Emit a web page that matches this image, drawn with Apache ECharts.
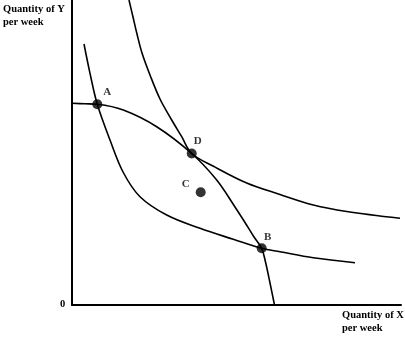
<!DOCTYPE html>
<html>
<head>
<meta charset="utf-8">
<script src="https://cdn.jsdelivr.net/npm/echarts@6/dist/echarts.min.js"></script>
<style>html,body{margin:0;padding:0;background:#fff;}#c{width:405px;height:338px;}</style>
</head>
<body>
<div id="c"></div>
<script>
// Higher indifference curve (through D)
const upperIC = [[57,305],[61,288],[65,271],[70,252],[78,230],[88,206],[99.7,185],[109.7,168.3],[119.7,151.5],[141,139],[174.7,122],[208,110.5],[241.3,100],[274.7,93.5],[328,86.7]];
// Lower indifference curve (through A and B)
const lowerIC = [[12,261],[18,231.7],[25.3,200.7],[38,165],[51.3,132.5],[68,108.3],[94.7,90],[128,76.7],[161.3,65.7],[189.7,56.7],[208,53.3],[241.3,47.3],[283,42.3]];
// Production possibility frontier
const ppf = [[0,201.7],[13,201.2],[25.3,200.7],[51.3,195],[84.7,178.3],[119.7,151.5],[144.7,125],[163,98],[173,82.5],[182,68],[189.7,56.7],[193.5,43],[198,22],[202.5,0]];
// Labelled points
const pointNames = ['A','B','C','D'];
const pointValues = [[25.3,200.7],[189.7,56.7],[128.7,112.7],[119.7,151.5]];
const labelOffsets = [[10,3],[6,4],[-15,7],[6,3]];
const yTitle = ['Quantity of Y','per week'];
const xTitle = ['Quantity of X','per week'];
const originLabel = '0';

const font = '"Liberation Serif", "Times New Roman", serif';
const chart = echarts.init(document.getElementById('c'), null, {renderer:'canvas'});
const lineStyle = {color:'#000', width:1.6};
const curve = (d) => ({type:'line',data:d,smooth:0.35,symbol:'none',lineStyle:lineStyle,clip:true});
chart.setOption({
  animation:false,
  grid:{left:72,right:4,top:0,bottom:33,containLabel:false},
  xAxis:{type:'value',min:0,max:329,axisLine:{lineStyle:{color:'#000',width:2}},axisTick:{show:false},axisLabel:{show:false},splitLine:{show:false}},
  yAxis:{type:'value',min:0,max:305,axisLine:{show:true,lineStyle:{color:'#000',width:2}},axisTick:{show:false},axisLabel:{show:false},splitLine:{show:false}},
  series:[
    curve(upperIC),
    curve(lowerIC),
    curve(ppf),
    {type:'scatter',symbol:'circle',symbolSize:10,itemStyle:{color:'#000'},z:5,
     data:pointValues.map((v,i)=>({value:v,label:{show:true,formatter:pointNames[i],position:'top',offset:labelOffsets[i],color:'#000',fontFamily:font,fontWeight:'bold',fontSize:11}}))}
  ],
  graphic:[
    {type:'text',left:3,top:4,style:{text:yTitle[0],font:'bold 10.5px '+font,fill:'#000'}},
    {type:'text',left:3,top:17,style:{text:yTitle[1],font:'bold 10.5px '+font,fill:'#000'}},
    {type:'text',left:342,top:310,style:{text:xTitle[0],font:'bold 10.5px '+font,fill:'#000'}},
    {type:'text',left:342,top:323,style:{text:xTitle[1],font:'bold 10.5px '+font,fill:'#000'}},
    {type:'text',left:60,top:299,style:{text:originLabel,font:'bold 10.5px '+font,fill:'#000'}}
  ]
});
</script>
</body>
</html>
